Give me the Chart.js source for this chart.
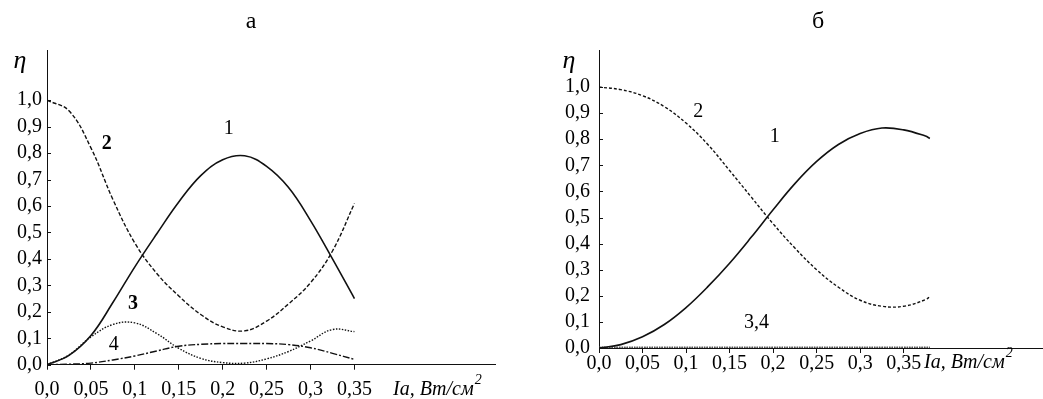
<!DOCTYPE html>
<html>
<head>
<meta charset="utf-8">
<script src="https://cdn.jsdelivr.net/npm/chart.js@4.4.0/dist/chart.umd.min.js"></script>
<style>
  html, body { margin: 0; padding: 0; background: #fff; }
  #wrap { position: relative; width: 1043px; height: 399px; }
  .panel { position: absolute; top: 0; height: 399px; }
  #pa { left: 0; width: 520px; }
  #pb { left: 520px; width: 523px; }
</style>
</head>
<body>
<div id="wrap">
  <div class="panel" id="pa"><canvas id="ca"></canvas></div>
  <div class="panel" id="pb"><canvas id="cb"></canvas></div>
</div>
<script>
// panel "а"
const xA = [0, 0.025, 0.05, 0.075, 0.1, 0.125, 0.15, 0.175, 0.2, 0.225, 0.25, 0.275, 0.3, 0.325, 0.35];
const a1 = [0, 0.035, 0.11, 0.235, 0.37, 0.495, 0.615, 0.715, 0.775, 0.79, 0.75, 0.67, 0.545, 0.40, 0.25];
const a2 = [1.0, 0.96, 0.82, 0.625, 0.46, 0.345, 0.26, 0.19, 0.143, 0.128, 0.165, 0.23, 0.31, 0.43, 0.61];
const a3 = [0, 0.037, 0.105, 0.152, 0.158, 0.118, 0.062, 0.024, 0.008, 0.006, 0.022, 0.05, 0.09, 0.133, 0.125];
const a4 = [0, 0.002, 0.006, 0.018, 0.033, 0.052, 0.07, 0.077, 0.08, 0.08, 0.08, 0.076, 0.064, 0.043, 0.02];

// panel "б"
const xB = [0, 0.025, 0.05, 0.075, 0.1, 0.125, 0.15, 0.175, 0.2, 0.225, 0.25, 0.275, 0.3, 0.325, 0.35, 0.375, 0.38];
const b1 = [0, 0.013, 0.043, 0.09, 0.155, 0.235, 0.325, 0.425, 0.53, 0.63, 0.715, 0.78, 0.822, 0.843, 0.836, 0.812, 0.803];
const b2 = [1.0, 0.99, 0.967, 0.925, 0.862, 0.78, 0.68, 0.578, 0.476, 0.383, 0.30, 0.233, 0.183, 0.16, 0.16, 0.185, 0.197];
const b3 = [0.003, 0.003, 0.003, 0.003, 0.003, 0.003, 0.003, 0.003, 0.003, 0.003, 0.003, 0.003, 0.003, 0.003, 0.003, 0.003, 0.003];
const b4 = [0.001, 0.001, 0.001, 0.001, 0.001, 0.001, 0.001, 0.001, 0.001, 0.001, 0.001, 0.001, 0.001, 0.001, 0.001, 0.001, 0.001];

// ticks
const xTickValues = [0, 0.05, 0.1, 0.15, 0.2, 0.25, 0.3, 0.35];
const xTickLabels = ["0,0", "0,05", "0,1", "0,15", "0,2", "0,25", "0,3", "0,35"];
const yTickValues = [0, 0.1, 0.2, 0.3, 0.4, 0.5, 0.6, 0.7, 0.8, 0.9, 1.0];
const yTickLabels = ["0,0", "0,1", "0,2", "0,3", "0,4", "0,5", "0,6", "0,7", "0,8", "0,9", "1,0"];

const SERIF = "'Liberation Serif', 'DejaVu Serif', serif";

function pts(xs, ys) {
    return xs.map((x, i) => ({ x: x, y: ys[i] }));
}

function line(xs, ys, dash, width, color) {
    return {
        data: pts(xs, ys),
        borderColor: color || "#111",
        borderWidth: width || 1.3,
        borderDash: dash,
        pointRadius: 0,
        fill: false,
        tension: 0.4,
    };
}

// text, eta, inner y ticks
const decor = {
    id: "decor",
    afterDraw(chart, args, o) {
        const ctx = chart.ctx;
        const xs = chart.scales.x, ys = chart.scales.y;
        const area = chart.chartArea;
        ctx.save();
        ctx.strokeStyle = "#111";
        ctx.lineWidth = 1;
        yTickValues.forEach((v) => {
            const py = Math.round(ys.getPixelForValue(v)) + 0.5;
            ctx.beginPath();
            ctx.moveTo(area.left, py);
            ctx.lineTo(area.left + 4, py);
            ctx.stroke();
        });
        ctx.fillStyle = "#000";
        ctx.textBaseline = "alphabetic";
        ctx.textAlign = "center";
        ctx.font = "24px " + SERIF;
        ctx.fillText(o.title, o.titleX, 28);
        ctx.font = "italic 26px " + SERIF;
        ctx.fillText("\u03b7", o.etaX, 68);
        o.labels.forEach((l) => {
            ctx.font = (l.bold ? "bold " : "") + o.labelSize + "px " + SERIF;
            ctx.textBaseline = "middle";
            ctx.fillText(l.text, xs.getPixelForValue(l.x), ys.getPixelForValue(l.y));
        });
        ctx.textAlign = "left";
        ctx.textBaseline = "alphabetic";
        ctx.font = "italic " + o.labelSize + "px " + SERIF;
        const t = "Ia, \u0412\u0442/\u0441\u043c";
        ctx.fillText(t, o.axisX, o.axisY);
        const w = ctx.measureText(t).width;
        ctx.font = "italic 14px " + SERIF;
        ctx.fillText("2", o.axisX + w + 1, o.axisY - 11);
        ctx.restore();
    },
};

function makeChart(id, datasets, g) {
    return new Chart(document.getElementById(id), {
        type: "line",
        data: { datasets: datasets },
        options: {
            responsive: true,
            maintainAspectRatio: false,
            animation: false,
            layout: { padding: { left: 0, top: 50, right: g.padRight, bottom: 0 } },
            plugins: {
                legend: { display: false },
                tooltip: { enabled: false },
                decor: g.decor,
            },
            scales: {
                x: {
                    type: "linear",
                    min: 0,
                    max: 0.51,
                    afterBuildTicks: (s) => { s.ticks = xTickValues.map((v) => ({ value: v })); },
                    afterFit: (s) => { s.height = g.xHeight; },
                    ticks: {
                        autoSkip: false,
                        maxRotation: 0,
                        padding: g.xPad,
                        color: "#000",
                        font: { family: SERIF, size: g.tickSize, lineHeight: 1 },
                        callback: (v, i) => xTickLabels[i],
                    },
                    grid: { drawOnChartArea: false, drawTicks: true, tickLength: 5, color: "#111" },
                    border: { display: true, color: "#111", width: 1 },
                },
                y: {
                    type: "linear",
                    min: 0,
                    max: g.yMax,
                    afterBuildTicks: (s) => { s.ticks = yTickValues.map((v) => ({ value: v })); },
                    afterFit: (s) => { s.width = g.yWidth; },
                    ticks: {
                        autoSkip: false,
                        padding: g.yPad,
                        color: "#000",
                        font: { family: SERIF, size: g.tickSize },
                        callback: (v, i) => yTickLabels[i],
                    },
                    grid: { drawOnChartArea: false, drawTicks: false },
                    border: { display: true, color: "#111", width: 1 },
                },
            },
        },
        plugins: [decor],
    });
}

makeChart("ca", [
    line(xA, a1, [], 1.6),
    line(xA, a2, [4, 2], 1.4),
    line(xA, a3, [1.5, 1.5], 1.4),
    line(xA, a4, [7, 2, 2, 2], 1.4),
], {
    padRight: 25, xHeight: 34.3, yWidth: 47, yMax: 1.19, xPad: 10, yPad: 5, tickSize: 20,
    decor: {
        title: "\u0430", titleX: 251, etaX: 20, labelSize: 20,
        axisX: 393, axisY: 395,
        labels: [
            { text: "1", x: 0.207, y: 0.894 },
            { text: "2", x: 0.068, y: 0.834, bold: true },
            { text: "3", x: 0.098, y: 0.232, bold: true },
            { text: "4", x: 0.076, y: 0.074 },
        ],
    },
});

makeChart("cb", [
    line(xB, b1, [], 1.6),
    line(xB, b2, [3, 2], 1.4),
    line(xB, b3, [1.5, 1], 1.5, "#555"),
    line(xB, b4, [1.5, 1], 1.5, "#777"),
], {
    padRight: 0, xHeight: 51, yWidth: 79, yMax: 1.142, xPad: 1, yPad: 9, tickSize: 20,
    decor: {
        title: "\u0431", titleX: 298, etaX: 49, labelSize: 20,
        axisX: 404, axisY: 368,
        labels: [
            { text: "1", x: 0.202, y: 0.808 },
            { text: "2", x: 0.114, y: 0.904 },
            { text: "3,4", x: 0.181, y: 0.096 },
        ],
    },
});
</script>
</body>
</html>
